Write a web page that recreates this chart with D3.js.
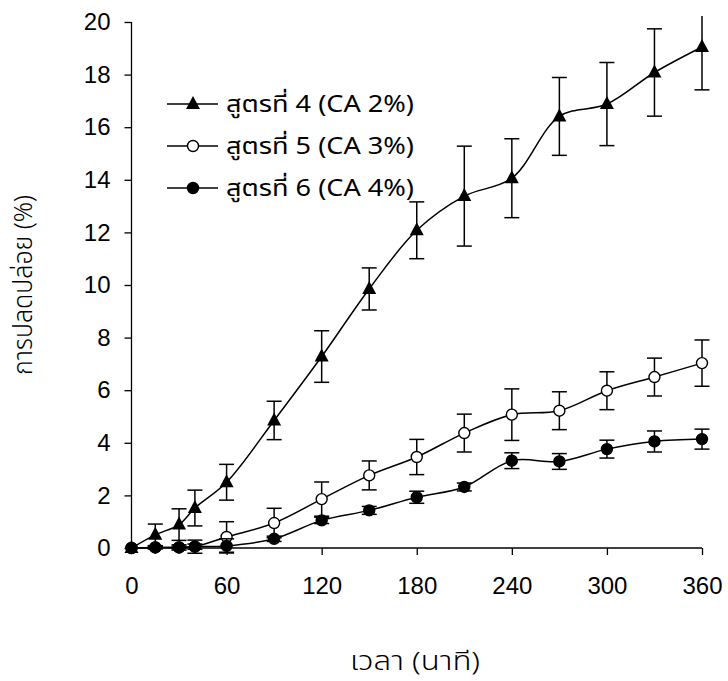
<!DOCTYPE html>
<html>
<head>
<meta charset="utf-8">
<script src="https://cdn.jsdelivr.net/npm/d3@7"></script>
<style>
  body { margin: 0; background: #fff; }
  svg { display: block; }
  text { font-family: "Liberation Sans", Arial, sans-serif; fill: #000; }
  .thai { font-family: "Noto Sans Thai", "Tahoma", "Noto Sans", "DejaVu Sans", sans-serif; }
</style>
</head>
<body>
<svg id="mysvg" width="728" height="681"></svg>
<script>
// time points (min)
var times = [0, 15, 30, 40, 60, 90, 120, 150, 180, 210, 240, 270, 300, 330, 360];

// release (%) mean and error
var ca2 = [0, 0.5, 0.89, 1.52, 2.5, 4.85, 7.28, 9.85, 12.08, 13.38, 14.06, 16.41, 16.88, 18.08, 19.05];
var ca2Err = [0, 0.41, 0.6, 0.68, 0.68, 0.73, 0.98, 0.8, 1.08, 1.9, 1.5, 1.48, 1.58, 1.66, 1.63];
var ca3 = [0, 0.02, 0.02, 0.05, 0.42, 0.95, 1.86, 2.76, 3.46, 4.37, 5.07, 5.22, 5.98, 6.5, 7.03];
var ca3Err = [0, 0.05, 0.05, 0.25, 0.58, 0.56, 0.65, 0.55, 0.67, 0.72, 0.98, 0.72, 0.72, 0.72, 0.88];
var ca4 = [0, 0.02, 0.02, 0.05, 0.08, 0.35, 1.05, 1.43, 1.93, 2.32, 3.32, 3.29, 3.76, 4.05, 4.14];
var ca4Err = [0, 0.05, 0.1, 0.1, 0.27, 0.1, 0.12, 0.15, 0.23, 0.15, 0.3, 0.3, 0.34, 0.4, 0.38];

var xTicks = [0, 60, 120, 180, 240, 300, 360];
var yTicks = [0, 2, 4, 6, 8, 10, 12, 14, 16, 18, 20];
var legendNames = ["สูตรที่ 4 (CA 2%)", "สูตรที่ 5 (CA 3%)", "สูตรที่ 6 (CA 4%)"];
var xTitle = "เวลา (นาที)";
var yTitle = "การปลดปล่อย (%)";

var series = [
  {name: legendNames[0], y: ca2, e: ca2Err, mark: "tri"},
  {name: legendNames[1], y: ca3, e: ca3Err, mark: "open"},
  {name: legendNames[2], y: ca4, e: ca4Err, mark: "dot"}
];

var svg = d3.select("svg");

var x = d3.scaleLinear().domain([0, 360]).range([131.5, 702]);
var y = d3.scaleLinear().domain([0, 20]).range([548, 22]);

// clip for error bars (plot area a bit bigger than axes)
svg.append("clipPath").attr("id", "plotclip")
  .append("rect").attr("x", 120).attr("y", 16).attr("width", 600).attr("height", 550);

// axes
var yAxis = svg.append("g")
  .attr("transform", "translate(" + x(0) + ",0)")
  .call(d3.axisLeft(y).tickValues(yTicks).tickSize(7).tickPadding(14).tickFormat(d3.format("d")));
var xAxis = svg.append("g")
  .attr("transform", "translate(0," + y(0) + ")")
  .call(d3.axisBottom(x).tickValues(xTicks).tickSize(7).tickPadding(22).tickFormat(d3.format("d")));

[xAxis, yAxis].forEach(function(a){
  a.select(".domain").attr("stroke", "#000").attr("stroke-width", 1.3);
  a.selectAll(".tick line").attr("stroke", "#000").attr("stroke-width", 1.3);
  a.selectAll(".tick text").attr("font-size", "24px").attr("font-family", "Liberation Sans, Arial, sans-serif").attr("fill", "#000");
});
// no tick below 0 on the x axis
xAxis.selectAll(".tick").filter(function(d){ return d === 0; }).select("line").remove();
xAxis.select(".domain").attr("d", "M" + x(0) + ",0H" + x(360));
yAxis.select(".domain").attr("d", "M0," + y(20) + "V" + y(0));

var line = d3.line()
  .x(function(d){ return x(d.t); })
  .y(function(d){ return y(d.v); })
  .curve(d3.curveCatmullRom.alpha(0.5));

function pts(s){
  return times.map(function(t, i){ return {t: t, v: s.y[i], e: s.e[i]}; });
}

function drawMark(g, kind, cx, cy){
  if (kind === "tri") {
    g.append("path")
      .attr("d", "M" + cx + "," + (cy - 8) + "L" + (cx + 7) + "," + (cy + 5) + "L" + (cx - 7) + "," + (cy + 5) + "Z")
      .attr("fill", "#000");
  } else {
    g.append("circle").attr("cx", cx).attr("cy", cy).attr("r", 5.5)
      .attr("fill", kind === "open" ? "#fff" : "#000")
      .attr("stroke", "#000").attr("stroke-width", 1.4);
  }
}

// draw back-to-front so the filled series sits on top near zero
series.forEach(function(s){
  var data = pts(s);
  var g = svg.append("g");

  var eb = g.append("g").attr("clip-path", "url(#plotclip)");
  data.forEach(function(d){
    if (d.e <= 0) return;
    var cx = x(d.t), y1 = y(d.v + d.e), y2 = y(d.v - d.e);
    eb.append("line").attr("x1", cx).attr("x2", cx).attr("y1", y1).attr("y2", y2)
      .attr("stroke", "#000").attr("stroke-width", 1.5);
    [y1, y2].forEach(function(yy){
      eb.append("line").attr("x1", cx - 7.5).attr("x2", cx + 7.5).attr("y1", yy).attr("y2", yy)
        .attr("stroke", "#000").attr("stroke-width", 1.5);
    });
  });

  g.append("path").datum(data).attr("d", line)
    .attr("fill", "none").attr("stroke", "#000").attr("stroke-width", 1.5);

  data.forEach(function(d){ drawMark(g, s.mark, x(d.t), y(d.v)); });
});

// legend
var leg = svg.append("g");
series.forEach(function(s, i){
  var ly = 104 + i * 42;
  leg.append("line").attr("x1", 167).attr("x2", 218).attr("y1", ly).attr("y2", ly)
    .attr("stroke", "#000").attr("stroke-width", 1.5);
  drawMark(leg, s.mark, 193, ly);
  leg.append("text").attr("class", "thai")
    .attr("x", 226).attr("y", ly + 8)
    .attr("font-size", "23px")
    .attr("textLength", 188).attr("lengthAdjust", "spacingAndGlyphs")
    .text(s.name);
});

// axis titles
svg.append("text").attr("class", "thai")
  .attr("text-anchor", "middle")
  .attr("transform", "translate(415,670)")
  .attr("font-size", "26px")
  .attr("font-weight", 300)
  .attr("fill", "#222")
  .attr("textLength", 130).attr("lengthAdjust", "spacingAndGlyphs")
  .text(xTitle);

svg.append("text").attr("class", "thai")
  .attr("text-anchor", "middle")
  .attr("transform", "translate(32,285)rotate(-90)")
  .attr("font-size", "26px")
  .attr("font-weight", 300)
  .attr("fill", "#222")
  .attr("textLength", 180).attr("lengthAdjust", "spacingAndGlyphs")
  .text(yTitle);
</script>
</body>
</html>
